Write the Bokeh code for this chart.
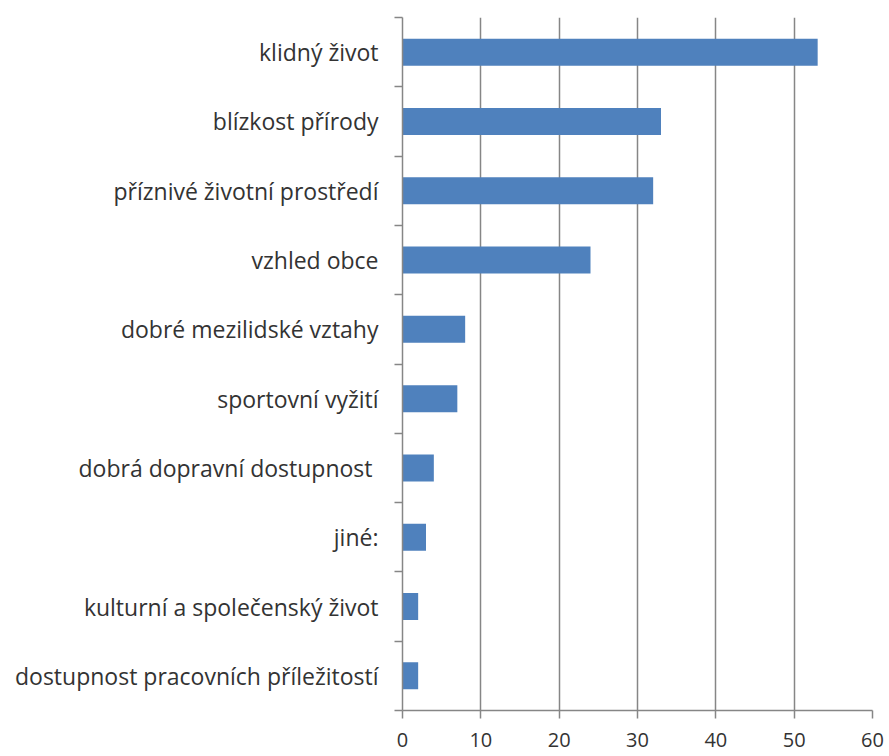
from bokeh.plotting import figure
from bokeh.models import Range1d, FixedTicker, LinearAxis
from bokeh.embed import file_html
from bokeh.resources import INLINE

categories = [
    "klidný život",
    "blízkost přírody",
    "příznivé životní prostředí",
    "vzhled obce",
    "dobré mezilidské vztahy",
    "sportovní vyžití",
    "dobrá dopravní dostupnost ",
    "jiné:",
    "kulturní a společenský život",
    "dostupnost pracovních příležitostí",
]
values = [53, 33, 32, 24, 8, 7, 4, 3, 2, 2]
x_ticks = [0, 10, 20, 30, 40, 50, 60]

n = len(categories)
ypos = [n - 1 - i for i in range(n)]

p = figure(width=885, height=752, output_backend="svg", toolbar_location=None,
           x_range=Range1d(0, 60), y_range=Range1d(-0.5, n - 0.5),
           x_axis_location=None, y_axis_location=None,
           min_border_left=402, min_border_right=13,
           min_border_top=17, min_border_bottom=42)

p.hbar(y=ypos, right=values, left=0, height=0.39, color="#4F81BD", line_color=None)

GRAY = "#868686"
xaxis = LinearAxis(ticker=FixedTicker(ticks=x_ticks))
xaxis.axis_line_color = GRAY
xaxis.axis_line_width = 1.5
xaxis.major_tick_line_color = GRAY
xaxis.major_tick_line_width = 1.5
xaxis.major_tick_in = 0
xaxis.major_tick_out = 8
xaxis.minor_tick_line_color = None
xaxis.major_label_text_font = "Open Sans"
xaxis.major_label_text_font_size = "20px"
xaxis.major_label_text_color = "#333333"
xaxis.major_label_standoff = 14
p.add_layout(xaxis, "below")

yaxis = LinearAxis(ticker=FixedTicker(ticks=ypos, minor_ticks=[k - 0.5 for k in range(n + 1)]))
yaxis.major_label_overrides = {yp: c for yp, c in zip(ypos, categories)}
yaxis.axis_line_color = GRAY
yaxis.axis_line_width = 1.5
yaxis.major_tick_line_color = None
yaxis.major_tick_in = 0
yaxis.major_tick_out = 0
yaxis.minor_tick_line_color = GRAY
yaxis.minor_tick_line_width = 1.5
yaxis.minor_tick_in = 0
yaxis.minor_tick_out = 8
yaxis.major_label_text_font = "Open Sans"
yaxis.major_label_text_font_size = "23px"
yaxis.major_label_text_color = "#333333"
yaxis.major_label_standoff = 16
p.add_layout(yaxis, "left")

p.xgrid.ticker = FixedTicker(ticks=x_ticks)
p.xgrid.grid_line_color = GRAY
p.xgrid.grid_line_width = 1.5
p.ygrid.grid_line_color = None
p.outline_line_color = None
p.background_fill_color = "white"
p.border_fill_color = "white"

open("out.html", "w").write(file_html(p, INLINE))
